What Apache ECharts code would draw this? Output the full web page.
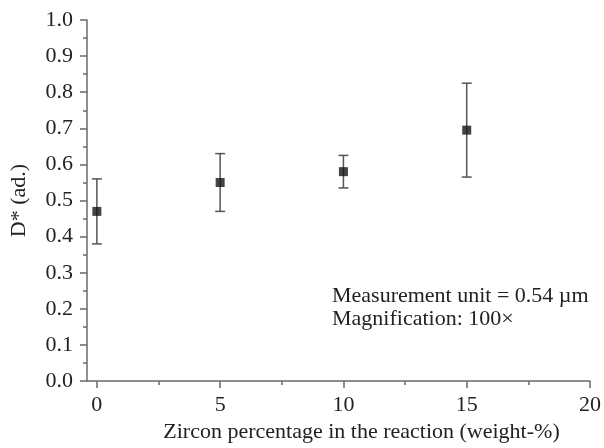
<!DOCTYPE html>
<html>
<head>
<meta charset="utf-8">
<script src="https://cdn.jsdelivr.net/npm/echarts@6/dist/echarts.min.js"></script>
<style>
	html, body { margin: 0; padding: 0; background: #fff; }
	#chart { width: 604px; height: 448px; }
</style>
</head>
<body>
<div id="chart"></div>
<script>
"use strict";

/*****Data*****/
var zirconPct = [0, 5, 10, 15];
var dMean = [0.47, 0.55, 0.58, 0.695];
var dLow = [0.38, 0.47, 0.535, 0.565];
var dHigh = [0.56, 0.63, 0.625, 0.825];
var xMajorTicks = [0, 5, 10, 15, 20];
var xMinorTicks = [2.5, 7.5, 12.5, 17.5];
var noteLines = ['Measurement unit = 0.54 \u00b5m', 'Magnification: 100\u00d7'];

var axisColor = '#6a6a6a';
var textColor = '#222';
var fontFam = "'Liberation Serif', 'DejaVu Serif', serif";

/*****Chart*****/
var chart = echarts.init(document.getElementById('chart'));

var errData = [];
var pointData = [];
for (var i = 0; i < zirconPct.length; i++) {
	errData.push([zirconPct[i], dLow[i], dHigh[i]]);
	pointData.push([zirconPct[i], dMean[i]]);
}

var option = {
	animation: false,
	backgroundColor: '#fff',
	grid: { left: 87, right: 12, top: 20, bottom: 63 },
	xAxis: [
		{
			type: 'value',
			min: -0.4,
			max: 20,
			name: 'Zircon percentage in the reaction (weight-%)',
			nameLocation: 'middle',
			nameGap: 39,
			nameTextStyle: { fontFamily: fontFam, fontSize: 22, color: textColor, padding: [0, 0, 0, 46] },
			axisLine: { show: true, onZero: false, lineStyle: { color: axisColor, width: 1.5 } },
			axisTick: { show: true, length: 7, customValues: xMajorTicks, lineStyle: { color: axisColor, width: 1.5 } },
			axisLabel: { customValues: xMajorTicks, margin: 13, fontFamily: fontFam, fontSize: 22, color: textColor },
			splitLine: { show: false }
		},
		{
			type: 'value',
			min: -0.4,
			max: 20,
			position: 'bottom',
			axisLine: { show: false, onZero: false },
			axisTick: { show: true, length: 4, customValues: xMinorTicks, lineStyle: { color: axisColor, width: 1.5 } },
			axisLabel: { show: false },
			splitLine: { show: false }
		}
	],
	yAxis: {
		type: 'value',
		min: 0,
		max: 1,
		interval: 0.1,
		name: 'D* (ad.)',
		nameLocation: 'middle',
		nameGap: 57,
		nameTextStyle: { fontFamily: fontFam, fontSize: 22, color: textColor },
		axisLine: { show: true, onZero: false, lineStyle: { color: axisColor, width: 1.5 } },
		axisTick: { show: true, length: 7, lineStyle: { color: axisColor, width: 1.5 } },
		minorTick: { show: true, splitNumber: 2, length: 4, lineStyle: { color: axisColor, width: 1.5 } },
		axisLabel: {
			margin: 14,
			fontFamily: fontFam,
			fontSize: 22,
			color: textColor,
			formatter: function (v) { return v.toFixed(1); }
		},
		splitLine: { show: false }
	},
	graphic: [
		{
			type: 'text',
			left: 332,
			top: 285,
			style: {
				text: noteLines.join('\n'),
				font: '22px ' + fontFam,
				lineHeight: 23,
				fill: textColor
			}
		}
	],
	series: [
		{
			type: 'custom',
			xAxisIndex: 0,
			data: errData,
			renderItem: function (params, api) {
				var x = api.value(0);
				var lo = api.coord([x, api.value(1)]);
				var hi = api.coord([x, api.value(2)]);
				var cap = 5;
				var st = { stroke: '#555', lineWidth: 1.5 };
				return {
					type: 'group',
					children: [
						{ type: 'line', shape: { x1: lo[0], y1: lo[1], x2: hi[0], y2: hi[1] }, style: st },
						{ type: 'line', shape: { x1: lo[0] - cap, y1: lo[1], x2: lo[0] + cap, y2: lo[1] }, style: st },
						{ type: 'line', shape: { x1: hi[0] - cap, y1: hi[1], x2: hi[0] + cap, y2: hi[1] }, style: st }
					]
				};
			},
			z: 2
		},
		{
			type: 'scatter',
			xAxisIndex: 0,
			data: pointData,
			symbol: 'rect',
			symbolSize: 9,
			itemStyle: { color: '#151515' },
			z: 3
		}
	]
};
chart.setOption(option);
</script>
</body>
</html>
